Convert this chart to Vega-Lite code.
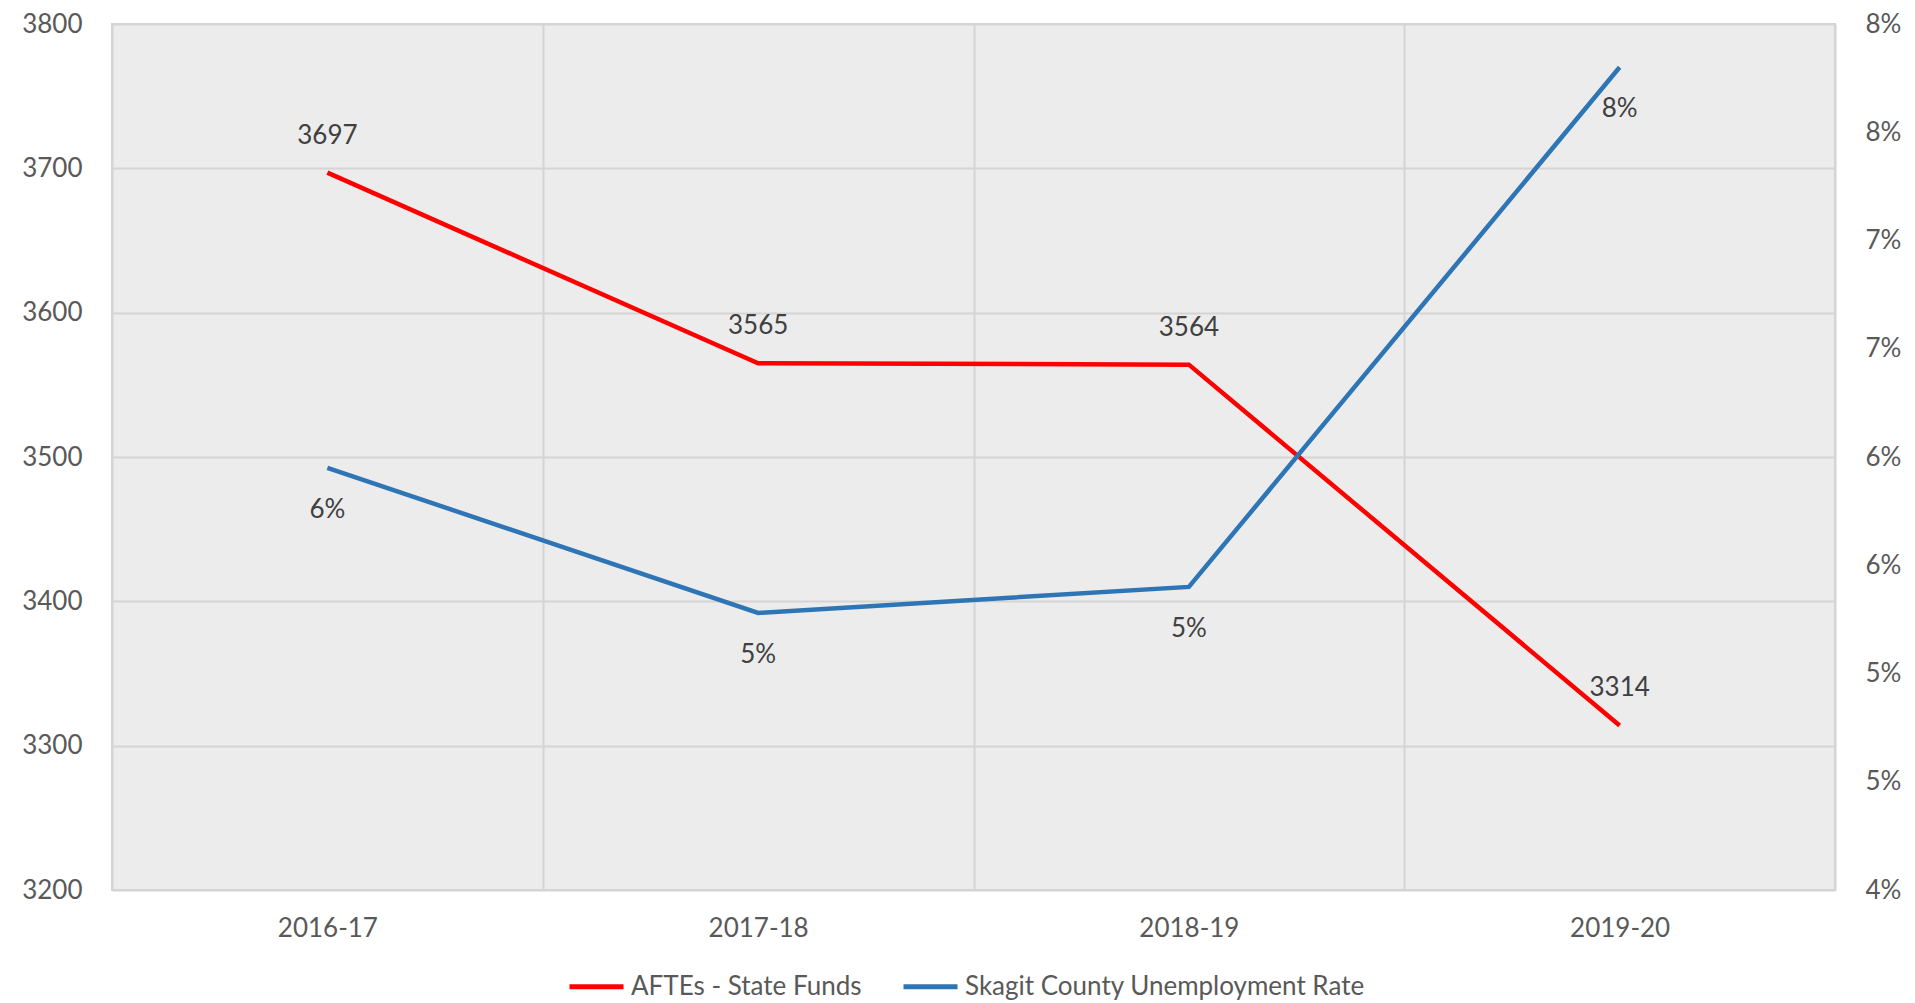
{
  "$schema": "https://vega.github.io/schema/vega-lite/v6.json",
  "width": 1723,
  "height": 866,
  "autosize": {"type": "none"},
  "padding": {"left": 112, "top": 24, "right": 80, "bottom": 113},
  "background": "white",
  "config": {
    "font": "Lato",
    "view": {"stroke": "#d4d4d4", "strokeWidth": 2, "fill": "#ececec"},
    "axis": {"labelFont": "Lato", "labelFontSize": 26, "labelColor": "#595959", "domain": false, "ticks": false, "title": null}
  },
  "datasets": {
    "aftes": [
      {"year": "2016-17", "series": "AFTEs - State Funds", "value": 3697},
      {"year": "2017-18", "series": "AFTEs - State Funds", "value": 3565},
      {"year": "2018-19", "series": "AFTEs - State Funds", "value": 3564},
      {"year": "2019-20", "series": "AFTEs - State Funds", "value": 3314}
    ],
    "rate": [
      {"year": "2016-17", "series": "Skagit County Unemployment Rate", "value": 0.0595},
      {"year": "2017-18", "series": "Skagit County Unemployment Rate", "value": 0.0528},
      {"year": "2018-19", "series": "Skagit County Unemployment Rate", "value": 0.054},
      {"year": "2019-20", "series": "Skagit County Unemployment Rate", "value": 0.078}
    ]
  },
  "layer": [
    {
      "data": {"name": "aftes"},
      "encoding": {
        "x": {"field": "year", "type": "nominal", "sort": null,
          "scale": {"type": "band", "paddingInner": 0, "paddingOuter": 0},
          "axis": {"grid": true, "tickBand": "extent", "gridColor": "#d4d4d4", "gridWidth": 2, "labelAngle": 0, "labelPadding": 25}},
        "y": {"field": "value", "type": "quantitative",
          "scale": {"domain": [3200, 3800], "nice": false, "zero": false},
          "axis": {"orient": "left", "values": [3200, 3300, 3400, 3500, 3600, 3700, 3800], "grid": true, "gridColor": "#d4d4d4", "gridWidth": 2, "labelPadding": 30, "format": "d"}}
      },
      "layer": [
        {"mark": {"type": "line", "strokeWidth": 4.5},
         "encoding": {"color": {"field": "series", "type": "nominal",
           "scale": {"domain": ["AFTEs - State Funds", "Skagit County Unemployment Rate"], "range": ["#ff0000", "#2e75b6"]},
           "legend": {"title": null, "orient": "none", "direction": "horizontal", "legendX": 455, "legendY": 933,
             "symbolType": "stroke", "symbolSize": 2916, "symbolStrokeWidth": 5, "labelFont": "Lato", "labelFontSize": 26, "labelLimit": 600, "labelColor": "#595959", "columnPadding": 31, "labelOffset": 5}}}},
        {"mark": {"type": "text", "dy": -37, "fontSize": 26, "color": "#404040", "font": "Lato"},
         "encoding": {"text": {"field": "value", "type": "quantitative", "format": "d"}}}
      ]
    },
    {
      "data": {"name": "rate"},
      "encoding": {
        "x": {"field": "year", "type": "nominal", "sort": null,
          "scale": {"type": "band", "paddingInner": 0, "paddingOuter": 0}},
        "y": {"field": "value", "type": "quantitative",
          "scale": {"domain": [0.04, 0.08], "nice": false, "zero": false},
          "axis": {"orient": "right", "values": [0.04, 0.045, 0.05, 0.055, 0.06, 0.065, 0.07, 0.075, 0.08], "grid": false, "labelPadding": 30,
            "labelExpr": "format(datum.value + 0.000001, '.0%')"}}
      },
      "layer": [
        {"mark": {"type": "line", "strokeWidth": 4.5},
         "encoding": {"color": {"field": "series", "type": "nominal"}}},
        {"mark": {"type": "text", "dy": 42, "fontSize": 26, "color": "#404040", "font": "Lato"},
         "encoding": {"text": {"field": "value", "type": "quantitative", "format": ".0%"}}}
      ]
    }
  ],
  "resolve": {"scale": {"y": "independent"}}
}
